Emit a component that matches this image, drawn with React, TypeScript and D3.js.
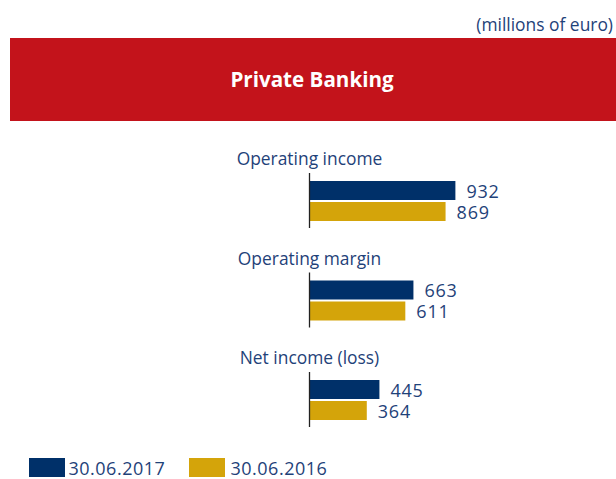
import React from "react";
import * as d3 from "d3";

const categories = ["Operating income", "Operating margin", "Net income (loss)"];
const series = ["30.06.2017", "30.06.2016"];
const values2017 = [932, 663, 445];
const values2016 = [869, 611, 364];
const unitLabel = "(millions of euro)";
const title = "Private Banking";

const W = 616;
const H = 479;
const NAVY = "#003069";
const GOLD = "#d4a40a";
const RED = "#c3131b";
const TEXT = "#1f4279";
const FONT = "'Open Sans', 'Noto Sans', sans-serif";

export default function App() {
  const x = d3.scaleLinear().domain([0, 1000]).range([310, 466]);
  const y = d3.scaleBand<string>().domain(categories).range([150, 448.5]).padding(0);
  const seriesVals = [values2017, values2016];
  const colors = [NAVY, GOLD];
  const barH = 19;
  const barOff = [31, 52];

  return (
    <div style={{ position: "absolute", left: 0, top: 0 }}>
      <svg width={W} height={H} style={{ display: "block" }} fontFamily={FONT}>
        <rect x={0} y={0} width={W} height={H} fill="#fff" />
        <text x={613} y={31} textAnchor="end" fontSize={17.4} fill={TEXT}>
          {unitLabel}
        </text>
        <rect x={10} y={38} width={606} height={83} fill={RED} />
        <text x={312} y={87} textAnchor="middle" fontSize={20.6} fontWeight="bold" fill="#fff">
          {title}
        </text>
        {categories.map((c, i) => {
          const g = y(c) as number;
          return (
            <g key={c}>
              <text x={309.5} y={g + 15} textAnchor="middle" fontSize={17.4} fill={TEXT}>
                {c}
              </text>
              {seriesVals.map((vals, s) => (
                <g key={s}>
                  <rect
                    x={x(0)}
                    y={g + barOff[s]}
                    width={x(vals[i]) - x(0)}
                    height={barH}
                    fill={colors[s]}
                  />
                  <text
                    x={x(vals[i]) + 11}
                    y={g + barOff[s] + 16.5}
                    fontSize={18}
                    letterSpacing={0.8}
                    fill={TEXT}
                  >
                    {vals[i]}
                  </text>
                </g>
              ))}
              <line x1={309.5} x2={309.5} y1={g + 23} y2={g + 78} stroke="#222" strokeWidth={1.3} />
            </g>
          );
        })}
        {series.map((s, i) => (
          <g key={s}>
            <rect x={29 + i * 160} y={458} width={36} height={19} fill={colors[i]} />
            <text x={68.5 + i * 162} y={475} fontSize={18} letterSpacing={0.5} fill={TEXT}>
              {s}
            </text>
          </g>
        ))}
      </svg>
    </div>
  );
}
